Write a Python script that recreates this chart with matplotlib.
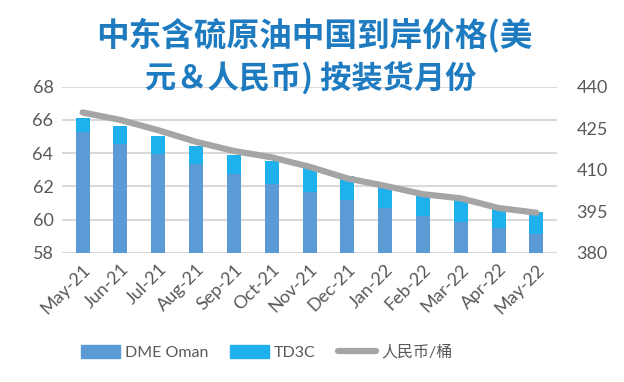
import numpy as np
import matplotlib
matplotlib.use('Agg')
from matplotlib import pyplot as plt
from matplotlib.patches import Patch
from matplotlib.lines import Line2D

plt.rcParams['font.family'] = ['Lato', 'Noto Sans CJK SC', 'DejaVu Sans']

months = ['May-21', 'Jun-21', 'Jul-21', 'Aug-21', 'Sep-21', 'Oct-21', 'Nov-21',
          'Dec-21', 'Jan-22', 'Feb-22', 'Mar-22', 'Apr-22', 'May-22']
dme_oman = [65.29, 64.57, 63.95, 63.34, 62.74, 62.14, 61.66, 61.17, 60.69, 60.21, 59.85, 59.49, 59.13]
total = [66.10, 65.63, 65.03, 64.43, 63.90, 63.54, 63.08, 62.62, 62.12, 61.64, 61.28, 60.81, 60.45]
td3c = [t - d for t, d in zip(total, dme_oman)]
rmb = [430.7, 428.0, 424.3, 420.1, 416.8, 414.5, 411.1, 406.9, 404.2, 401.2, 399.7, 396.2, 394.5]

c_dme = '#5B9BD5'
c_td3c = '#1FB1EE'
c_line = '#A5A5A5'
c_text = '#595959'
cjk = ['Noto Sans CJK SC', 'DejaVu Sans']

fig = plt.figure(figsize=(6.24, 3.82), dpi=100)
ax = fig.add_axes([0.099, 0.338, 0.794, 0.435])
x = np.arange(len(months))

ax.bar(x, dme_oman, width=0.37, color=c_dme, zorder=2)
ax.bar(x, td3c, width=0.37, bottom=dme_oman, color=c_td3c, zorder=2)
ax.set_ylim(58, 68)
ax.set_yticks(np.arange(58, 69, 2))
ax.set_xlim(-0.55, len(months) - 0.45)
ax.yaxis.grid(True, color='#D9D9D9', linewidth=1.5, zorder=0)
ax.set_axisbelow(True)
for s in ax.spines.values():
    s.set_visible(False)
ax.tick_params(length=0, labelsize=13, colors=c_text, pad=6)
ax.set_xticks(x)
ax.set_xticklabels(months, rotation=45, ha='right', rotation_mode='anchor')

ax2 = ax.twinx()
ax2.plot(x, rmb, color=c_line, linewidth=4.5, solid_capstyle='round', zorder=3)
ax2.set_ylim(380, 440)
ax2.set_yticks(np.arange(380, 441, 15))
for s in ax2.spines.values():
    s.set_visible(False)
ax2.tick_params(length=0, labelsize=13, colors=c_text, pad=14)

fig.text(0.503, 0.908, '中东含硫原油中国到岸价格(美', ha='center', va='center',
         fontsize=23.5, fontweight='bold', color='#1F7BC0', family=cjk)
fig.text(0.498, 0.797, '元＆人民币) 按装货月份', ha='center', va='center',
         fontsize=22.5, fontweight='bold', color='#1F7BC0', family=cjk)

handles = [Patch(color=c_dme, label='DME Oman'),
           Patch(color=c_td3c, label='TD3C'),
           Line2D([0], [0], color=c_line, linewidth=4.5, solid_capstyle='round', label='人民币/桶')]
fig.legend(handles=handles, loc='center', bbox_to_anchor=(0.428, 0.078), ncol=3, frameon=False,
           fontsize=11.5, labelcolor=c_text, handlelength=2.4, handleheight=0.9,
           columnspacing=1.35, handletextpad=0.35)

fig.savefig('out.png', dpi=100)
